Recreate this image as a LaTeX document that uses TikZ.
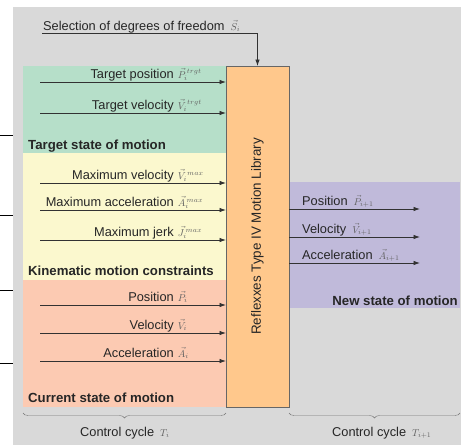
\documentclass[tikz,border=0pt]{standalone}
\usepackage[no-math]{fontspec}
\setmainfont{Liberation Sans}
\usepackage{amsmath}
\usetikzlibrary{positioning,arrows.meta,calc,decorations.pathreplacing}
\definecolor{bgcol}{RGB}{217,217,217}
\definecolor{tgtcol}{RGB}{182,223,201}
\definecolor{kincol}{RGB}{251,248,206}
\definecolor{curcol}{RGB}{252,202,178}
\definecolor{libcol}{RGB}{255,200,140}
\definecolor{newcol}{RGB}{192,186,218}
\definecolor{arrcol}{RGB}{50,50,50}
\newcommand{\symtxt}[1]{{\fontsize{10}{12}\selectfont\color{black!62}$#1$}}

\begin{document}
\begin{tikzpicture}[x=1pt, y=-1pt,
  region/.style={rectangle, fill=#1, inner sep=0pt, outer sep=0pt, anchor=north west},
  lbl/.style={font=\fontsize{12.8}{15}\selectfont, text=black!85, inner sep=0pt},
  head/.style={font=\fontsize{13.2}{15}\selectfont\bfseries, text=black!85, inner sep=0pt},
  ea/.style={-{Latex[length=6.5pt,width=4.5pt]}, line width=0.8pt, arrcol},
  brc/.style={decorate, decoration={brace, mirror, amplitude=5pt}, draw=black!55, thin},
]
\useasboundingbox (0,0) rectangle (461,445);
\fill[bgcol] (13,7) rectangle (461,445);

% rule stubs in the left margin
\foreach \y in {135,215,290,363} \draw[line width=1pt] (0,\y) -- (13,\y);

% coloured blocks
\node[region=tgtcol, minimum width=203, minimum height=87]  (tgt) at (23,66)  {};
\node[region=kincol, minimum width=203, minimum height=127] (kin) at (23,153) {};
\node[region=curcol, minimum width=203, minimum height=127] (cur) at (23,280) {};
\node[region=newcol, minimum width=171, minimum height=126] (new) at (289,182) {};
\node[region=libcol, draw=black!60, line width=0.8pt,
      minimum width=63, minimum height=341] (lib) at (226,66) {};
\node[lbl, font=\fontsize{13.4}{15}\selectfont, rotate=90] (libtxt) at (lib)
     {Reflexxes Type IV Motion Library};

\node[head, anchor=base west] (tgthd) at (28,149)  {Target state of motion};
\node[head, anchor=base west] (kinhd) at (28,275)  {Kinematic motion constraints};
\node[head, anchor=base west] (curhd) at (28,402)  {Current state of motion};
\node[head, anchor=base east] (newhd) at (458,305) {New state of motion};

% inputs
\foreach \n/\y/\txt/\sym in {
  tp/82/{Target position}/{\vec{P}_i^{\,trgt}},
  tv/113/{Target velocity}/{\vec{V}_i^{\,trgt}},
  mv/183/{Maximum velocity}/{\vec{V}_i^{\,max}},
  ma/210/{Maximum acceleration}/{\vec{A}_i^{\,max}},
  mj/240/{Maximum jerk}/{\vec{J}_i^{\,max}},
  cp/305/{Position}/{\vec{P}_i},
  cv/333/{Velocity}/{\vec{V}_i},
  ca/361/{Acceleration}/{\vec{A}_i}
}{
  \coordinate (\n) at (40,\y);
  \draw[ea] (\n) -- (\n -| lib.west);
  \node[lbl, anchor=base east] (\n-t) at (209,\y-4)
       {\txt\hspace{4pt}\makebox[31pt][l]{\symtxt{\sym}}};
}

% outputs
\foreach \n/\y/\txt/\sym in {
  np/209/Position/{\vec{P}_{i+1}},
  nv/237/Velocity/{\vec{V}_{i+1}},
  na/263/Acceleration/{\vec{A}_{i+1}}
}{
  \coordinate (\n) at (420,\y);
  \draw[ea] (\n -| lib.east) -- (\n);
  \node[lbl, anchor=base west] (\n-t) at (302,\y-4) {\txt\hspace{6pt}\symtxt{\sym}};
}

% degrees of freedom
\node[lbl, anchor=base west] (sel) at (43,30)
     {Selection of degrees of freedom\hspace{6pt}\symtxt{\vec{S}_i}};
\coordinate (sel0) at (42,33);
\draw[ea] (sel0) -| (lib.north);

% control cycles
\coordinate (c0a) at (23,413);
\coordinate (c0b) at (226,413);
\coordinate (c1a) at (289,413);
\coordinate (c1b) at (460,413);
\draw[brc] (c0a) -- (c0b);
\draw[brc] (c1a) -- (c1b);
\node[lbl, anchor=base west] (cyc0) at (80,436)  {Control cycle\hspace{6pt}\symtxt{T_i}};
\node[lbl, anchor=base west] (cyc1) at (332,436) {Control cycle\hspace{6pt}\symtxt{T_{i+1}}};

\end{tikzpicture}
\end{document}
